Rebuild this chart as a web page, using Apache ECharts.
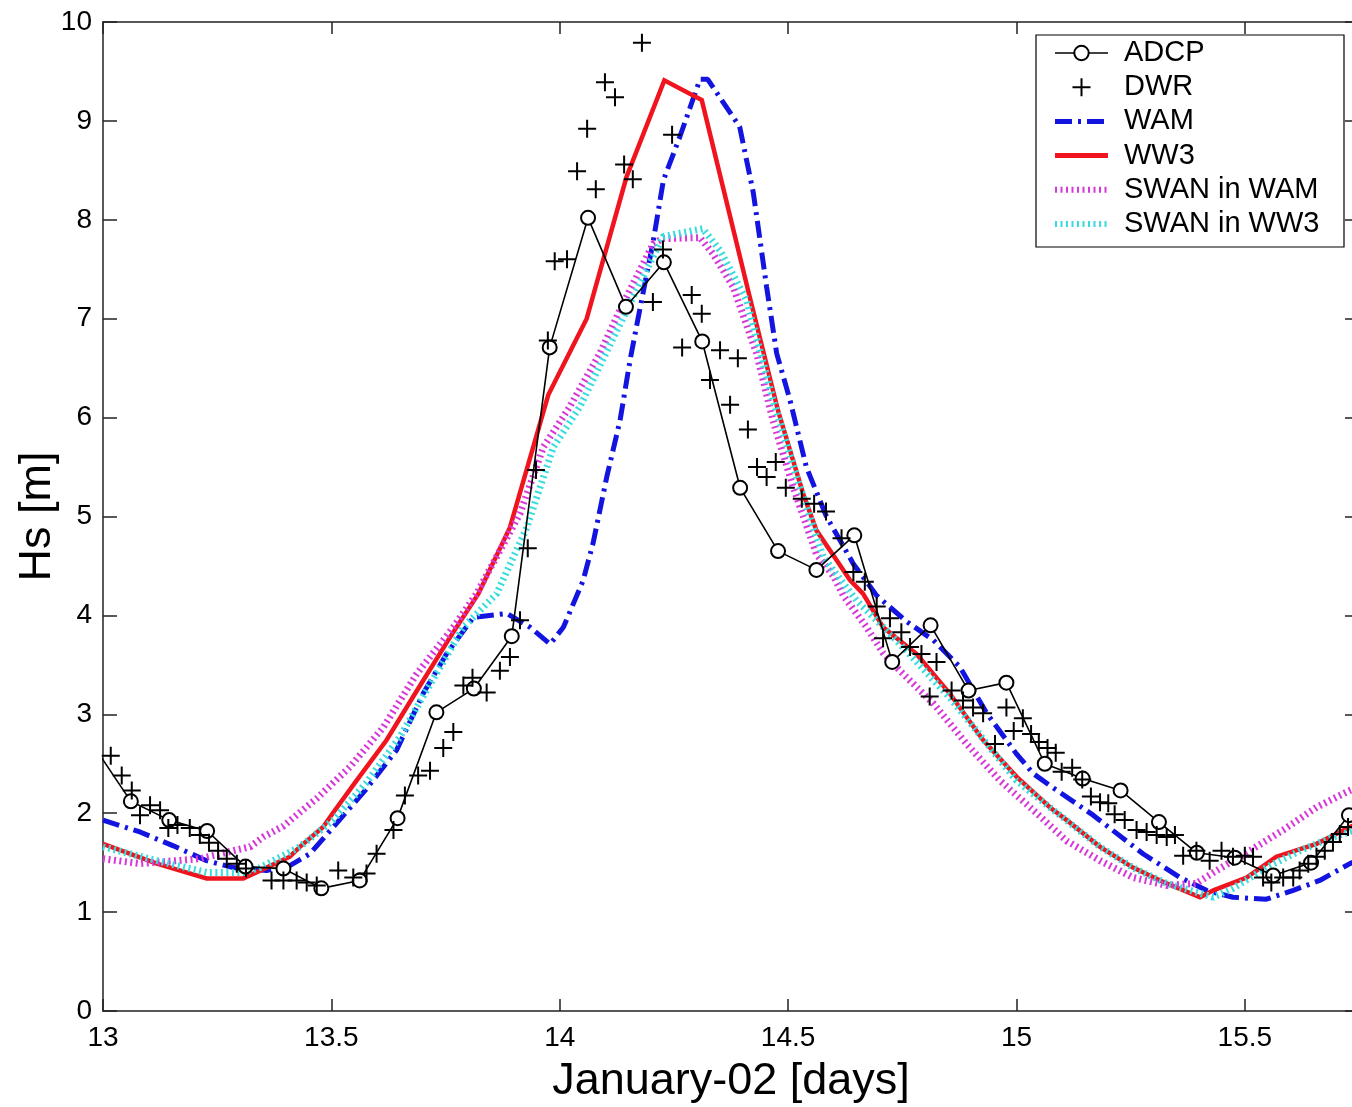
<!DOCTYPE html>
<html><head><meta charset="utf-8">
<script src="https://cdn.jsdelivr.net/npm/echarts@6.0.0/dist/echarts.min.js"></script>
<style>html,body{margin:0;padding:0;background:#fff;overflow:hidden}#c{width:1352px;height:1107px}</style>
</head><body><div id="c"></div>
<script>
const xTicks = [13, 13.5, 14, 14.5, 15, 15.5];
const yTicks = [0, 1, 2, 3, 4, 5, 6, 7, 8, 9, 10];
const seriesNames = ['ADCP', 'DWR', 'WAM', 'WW3', 'SWAN in WAM', 'SWAN in WW3'];

const adcpX = [12.978, 13.061, 13.145, 13.228, 13.312, 13.395, 13.478, 13.562, 13.645, 13.730, 13.812, 13.895, 13.978, 14.062, 14.145, 14.228, 14.312, 14.395, 14.478, 14.562, 14.645, 14.728, 14.812, 14.895, 14.978, 15.062, 15.145, 15.228, 15.312, 15.395, 15.478, 15.562, 15.645, 15.728];
const adcpY = [2.69, 2.12, 1.93, 1.82, 1.46, 1.44, 1.24, 1.32, 1.95, 3.02, 3.26, 3.79, 6.71, 8.02, 7.12, 7.57, 6.77, 5.29, 4.65, 4.46, 4.81, 3.53, 3.90, 3.24, 3.32, 2.50, 2.35, 2.23, 1.91, 1.60, 1.55, 1.37, 1.50, 1.98];

const dwrX = [13.017, 13.041, 13.063, 13.081, 13.103, 13.125, 13.143, 13.163, 13.190, 13.212, 13.232, 13.252, 13.271, 13.293, 13.313, 13.369, 13.395, 13.424, 13.446, 13.468, 13.515, 13.548, 13.577, 13.599, 13.636, 13.661, 13.690, 13.716, 13.745, 13.767, 13.789, 13.809, 13.840, 13.869, 13.891, 13.913, 13.930, 13.948, 13.974, 13.989, 14.016, 14.038, 14.060, 14.079, 14.099, 14.121, 14.141, 14.160, 14.180, 14.204, 14.226, 14.246, 14.268, 14.289, 14.311, 14.329, 14.351, 14.373, 14.390, 14.412, 14.432, 14.453, 14.473, 14.495, 14.530, 14.557, 14.583, 14.617, 14.643, 14.668, 14.694, 14.708, 14.723, 14.748, 14.767, 14.792, 14.810, 14.825, 14.858, 14.883, 14.905, 14.927, 14.953, 14.978, 14.994, 15.014, 15.032, 15.049, 15.068, 15.086, 15.099, 15.122, 15.144, 15.163, 15.183, 15.201, 15.215, 15.237, 15.263, 15.285, 15.307, 15.329, 15.347, 15.365, 15.394, 15.423, 15.449, 15.474, 15.500, 15.518, 15.540, 15.558, 15.584, 15.606, 15.620, 15.639, 15.657, 15.675, 15.693, 15.708, 15.726];
const dwrY = [2.58, 2.38, 2.23, 1.98, 2.08, 2.03, 1.85, 1.88, 1.85, 1.78, 1.70, 1.62, 1.54, 1.49, 1.44, 1.32, 1.32, 1.32, 1.30, 1.27, 1.42, 1.35, 1.39, 1.59, 1.83, 2.18, 2.38, 2.43, 2.66, 2.82, 3.29, 3.37, 3.22, 3.44, 3.58, 3.95, 4.68, 5.47, 6.78, 7.58, 7.60, 8.49, 8.92, 8.31, 9.39, 9.24, 8.56, 8.41, 9.79, 7.17, 7.70, 8.86, 6.71, 7.24, 7.05, 6.38, 6.68, 6.13, 6.60, 5.88, 5.50, 5.40, 5.55, 5.29, 5.18, 5.13, 5.05, 4.78, 4.44, 4.34, 4.09, 3.77, 3.97, 3.83, 3.68, 3.61, 3.18, 3.53, 3.24, 3.14, 3.07, 3.01, 2.70, 3.07, 2.83, 2.96, 2.80, 2.72, 2.66, 2.61, 2.42, 2.46, 2.34, 2.17, 2.11, 2.10, 1.99, 1.93, 1.83, 1.81, 1.78, 1.76, 1.78, 1.57, 1.62, 1.52, 1.62, 1.56, 1.57, 1.56, 1.35, 1.30, 1.35, 1.35, 1.42, 1.49, 1.56, 1.62, 1.71, 1.79, 1.86];

const wamX = [13.0, 13.081, 13.154, 13.227, 13.285, 13.358, 13.409, 13.453, 13.508, 13.574, 13.643, 13.701, 13.752, 13.811, 13.884, 13.935, 13.979, 14.008, 14.051, 14.073, 14.103, 14.132, 14.154, 14.168, 14.205, 14.227, 14.263, 14.307, 14.324, 14.394, 14.424, 14.453, 14.475, 14.504, 14.540, 14.584, 14.643, 14.694, 14.759, 14.818, 14.876, 14.935, 15.000, 15.037, 15.073, 15.168, 15.277, 15.358, 15.416, 15.474, 15.547, 15.606, 15.664, 15.730, 15.75];
const wamY = [1.93, 1.81, 1.67, 1.52, 1.45, 1.42, 1.47, 1.59, 1.88, 2.23, 2.64, 3.21, 3.61, 3.98, 4.02, 3.88, 3.71, 3.88, 4.35, 4.73, 5.40, 5.97, 6.58, 6.92, 7.79, 8.40, 8.84, 9.42, 9.42, 8.94, 8.27, 7.32, 6.65, 6.18, 5.50, 5.00, 4.52, 4.20, 3.94, 3.75, 3.48, 3.01, 2.60, 2.40, 2.28, 1.98, 1.59, 1.35, 1.22, 1.15, 1.13, 1.22, 1.32, 1.49, 1.53];

const ww3X = [13.0, 13.118, 13.227, 13.307, 13.358, 13.409, 13.431, 13.482, 13.503, 13.555, 13.621, 13.678, 13.760, 13.822, 13.891, 13.975, 14.059, 14.146, 14.229, 14.311, 14.416, 14.478, 14.533, 14.562, 14.606, 14.635, 14.664, 14.708, 14.781, 14.854, 14.927, 15.000, 15.073, 15.110, 15.183, 15.255, 15.329, 15.402, 15.431, 15.504, 15.569, 15.657, 15.730, 15.75];
const ww3Y = [1.69, 1.49, 1.34, 1.34, 1.45, 1.56, 1.66, 1.86, 2.00, 2.33, 2.74, 3.17, 3.78, 4.22, 4.89, 6.23, 7.00, 8.43, 9.41, 9.21, 7.22, 6.07, 5.23, 4.86, 4.56, 4.36, 4.22, 3.88, 3.61, 3.21, 2.74, 2.37, 2.06, 1.93, 1.66, 1.45, 1.29, 1.15, 1.22, 1.35, 1.56, 1.69, 1.86, 1.90];

const swanWamX = [13.0, 13.081, 13.212, 13.285, 13.322, 13.351, 13.395, 13.468, 13.541, 13.614, 13.687, 13.767, 13.818, 13.913, 13.964, 14.022, 14.088, 14.132, 14.205, 14.226, 14.307, 14.335, 14.380, 14.431, 14.467, 14.511, 14.562, 14.599, 14.621, 14.672, 14.708, 14.745, 14.818, 14.891, 14.964, 15.037, 15.110, 15.183, 15.255, 15.329, 15.394, 15.438, 15.511, 15.584, 15.657, 15.730, 15.75];
const swanWamY = [1.54, 1.49, 1.54, 1.62, 1.66, 1.76, 1.87, 2.15, 2.47, 2.87, 3.41, 3.88, 4.22, 5.03, 5.70, 6.11, 6.65, 7.09, 7.76, 7.81, 7.82, 7.66, 7.32, 6.65, 5.97, 5.30, 4.62, 4.40, 4.20, 3.88, 3.62, 3.44, 3.11, 2.70, 2.33, 2.03, 1.72, 1.52, 1.35, 1.27, 1.29, 1.42, 1.62, 1.83, 2.06, 2.23, 2.27];

const swanWw3X = [13.0, 13.118, 13.227, 13.307, 13.344, 13.431, 13.504, 13.577, 13.650, 13.687, 13.789, 13.862, 13.928, 13.986, 14.044, 14.161, 14.226, 14.313, 14.351, 14.409, 14.467, 14.526, 14.577, 14.650, 14.737, 14.854, 15.000, 15.073, 15.183, 15.255, 15.329, 15.431, 15.474, 15.547, 15.620, 15.693, 15.75];
const swanWw3Y = [1.66, 1.52, 1.40, 1.40, 1.45, 1.66, 1.93, 2.31, 2.77, 3.07, 3.88, 4.22, 4.89, 5.70, 6.11, 7.22, 7.83, 7.91, 7.69, 7.19, 6.18, 5.30, 4.59, 4.15, 3.75, 3.17, 2.33, 2.06, 1.66, 1.45, 1.29, 1.15, 1.24, 1.45, 1.62, 1.76, 1.84];

const zip = (xs, ys) => xs.map((x, i) => [x, ys[i]]);
const FONT = 'Liberation Sans, Arial, Helvetica, sans-serif';
const plusPath = 'path://M-1,-9 H1 V9 H-1 Z M-9,-1 H9 V1 H-9 Z';
const AX = '#222';
const C_WAM = '#1414e0', C_WW3 = '#f0141e', C_SW1 = '#d838d8', C_SW2 = '#38dcdc';
const WAM_DASH = [17, 6, 3, 6], DOT = [2, 3.5];

const chart = echarts.init(document.getElementById('c'), null, {renderer: 'canvas'});
const xBase = {
  type: 'value', min: 13, max: 15.75, interval: 0.5, gridIndex: 0,
  axisLine: {show: true, onZero: false, lineStyle: {color: AX, width: 1.5}},
  axisTick: {show: true, inside: true, length: 12, lineStyle: {color: AX, width: 1.5}},
  splitLine: {show: false}
};
const yBase = {
  type: 'value', min: 0, max: 10, interval: 1, gridIndex: 0,
  axisLine: {show: true, onZero: false, lineStyle: {color: AX, width: 1.5}},
  axisTick: {show: true, inside: true, length: 14, lineStyle: {color: AX, width: 1.5}},
  splitLine: {show: false}
};
const hideSym = {opacity: 0};
chart.setOption({
  animation: false,
  backgroundColor: '#fff',
  textStyle: {fontFamily: FONT},
  grid: {left: 103, top: 22, right: -7, bottom: 96, containLabel: false, outerBoundsMode: 'none'},
  xAxis: [
    Object.assign({}, xBase, {
      position: 'bottom',
      name: 'January-02 [days]', nameLocation: 'middle', nameGap: 48, nameMoveOverlap: false,
      nameTextStyle: {fontSize: 45, color: '#000', fontFamily: FONT},
      axisLabel: {show: true, fontSize: 28, color: '#000', margin: 13, fontFamily: FONT,
        formatter: v => xTicks.some(t => Math.abs(t - v) < 1e-9) ? String(v) : ''}
    }),
    Object.assign({}, xBase, {position: 'top', axisLabel: {show: false}})
  ],
  yAxis: [
    Object.assign({}, yBase, {
      position: 'left',
      name: 'Hs [m]', nameLocation: 'middle', nameGap: 43, nameMoveOverlap: false,
      nameTextStyle: {fontSize: 45, color: '#000', fontFamily: FONT},
      axisLabel: {show: true, fontSize: 28, color: '#000', margin: 11, fontFamily: FONT,
        formatter: v => yTicks.includes(v) ? String(v) : ''}
    }),
    Object.assign({}, yBase, {position: 'right', axisLabel: {show: false}})
  ],
  graphic: [{
    type: 'rect', z: 10, silent: true,
    shape: {x: 1036, y: 35, width: 308, height: 212},
    style: {fill: '#fff', stroke: '#000', lineWidth: 1.2}
  }],
  legend: {
    orient: 'vertical', left: 1052, top: 38, padding: 0, z: 20,
    itemWidth: 53, itemHeight: 18, itemGap: 4.2,
    selectedMode: false,
    textStyle: {fontSize: 29, color: '#000', fontFamily: FONT, lineHeight: 30, padding: [0, 0, 0, 11]},
    data: [
      {name: 'ADCP', lineStyle: {width: 1.6, color: '#000'}},
      {name: 'DWR', icon: plusPath, itemStyle: {color: '#000'}},
      {name: 'WAM', itemStyle: hideSym, lineStyle: {width: 5, color: C_WAM, type: WAM_DASH}},
      {name: 'WW3', itemStyle: hideSym, lineStyle: {width: 5, color: C_WW3}},
      {name: 'SWAN in WAM', itemStyle: hideSym, lineStyle: {width: 6, color: C_SW1, type: DOT, cap: 'butt'}},
      {name: 'SWAN in WW3', itemStyle: hideSym, lineStyle: {width: 6, color: C_SW2, type: DOT, cap: 'butt'}}
    ]
  },
  series: [
    {
      name: seriesNames[0], type: 'line', data: zip(adcpX, adcpY), clip: true,
      symbol: 'emptyCircle', symbolSize: 14, showSymbol: true,
      lineStyle: {color: '#000', width: 1.6},
      itemStyle: {color: '#000', borderColor: '#000', borderWidth: 1.6},
      z: 6
    },
    {
      name: seriesNames[1], type: 'scatter', data: zip(dwrX, dwrY), clip: true,
      symbol: plusPath, symbolSize: 18,
      itemStyle: {color: '#000', opacity: 1},
      z: 7
    },
    {
      name: seriesNames[2], type: 'line', data: zip(wamX, wamY), clip: true,
      symbol: 'none', showSymbol: false,
      lineStyle: {color: C_WAM, width: 5, type: WAM_DASH, cap: 'butt'},
      itemStyle: {color: C_WAM}, z: 3
    },
    {
      name: seriesNames[3], type: 'line', data: zip(ww3X, ww3Y), clip: true,
      symbol: 'none', showSymbol: false,
      lineStyle: {color: C_WW3, width: 4.5, join: 'miter'},
      itemStyle: {color: C_WW3}, z: 3
    },
    {
      name: seriesNames[4], type: 'line', data: zip(swanWamX, swanWamY), clip: true,
      symbol: 'none', showSymbol: false,
      lineStyle: {color: C_SW1, width: 7, type: DOT, cap: 'butt'},
      itemStyle: {color: C_SW1}, z: 4
    },
    {
      name: seriesNames[5], type: 'line', data: zip(swanWw3X, swanWw3Y), clip: true,
      symbol: 'none', showSymbol: false,
      lineStyle: {color: C_SW2, width: 7, type: DOT, cap: 'butt'},
      itemStyle: {color: C_SW2}, z: 4
    }
  ]
});
</script>
</body></html>
